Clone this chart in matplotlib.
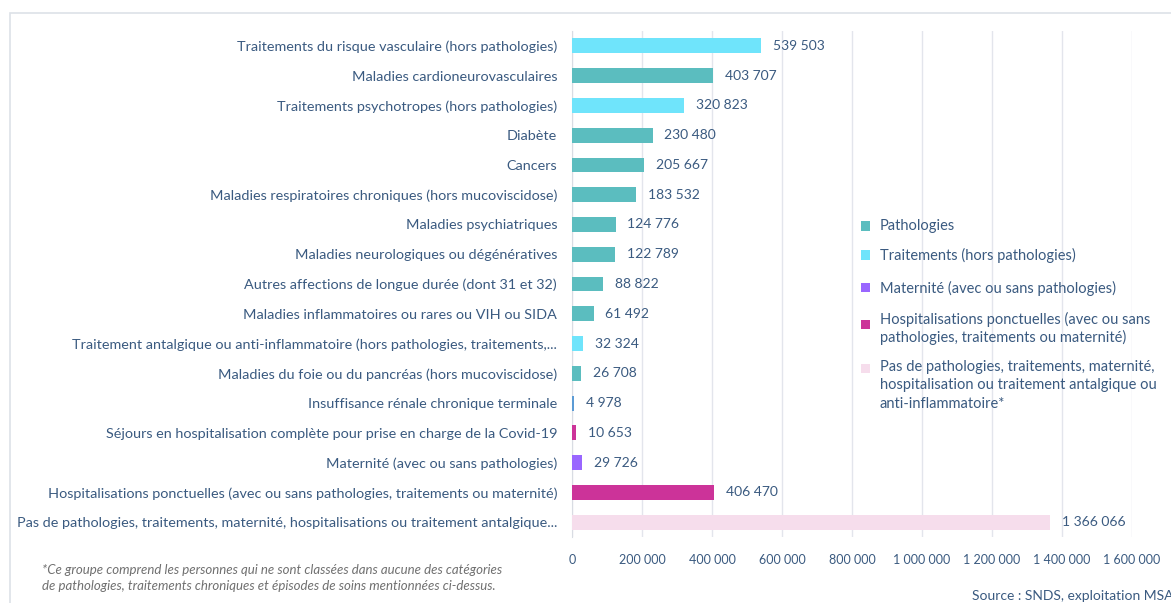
import matplotlib
matplotlib.use("Agg")
import matplotlib.pyplot as plt
from matplotlib.patches import Rectangle
from matplotlib.ticker import FuncFormatter

# categories, top to bottom
categories = [
    "Traitements du risque vasculaire (hors pathologies)",
    "Maladies cardioneurovasculaires",
    "Traitements psychotropes (hors pathologies)",
    "Diabète",
    "Cancers",
    "Maladies respiratoires chroniques (hors mucoviscidose)",
    "Maladies psychiatriques",
    "Maladies neurologiques ou dégénératives",
    "Autres affections de longue durée (dont 31 et 32)",
    "Maladies inflammatoires ou rares ou VIH ou SIDA",
    "Traitement antalgique ou anti-inflammatoire (hors pathologies, traitements,...",
    "Maladies du foie ou du pancréas (hors mucoviscidose)",
    "Insuffisance rénale chronique terminale",
    "Séjours en hospitalisation complète pour prise en charge de la Covid-19",
    "Maternité (avec ou sans pathologies)",
    "Hospitalisations ponctuelles (avec ou sans pathologies, traitements ou maternité)",
    "Pas de pathologies, traitements, maternité, hospitalisations ou traitement antalgique...",
]
values = [539503, 403707, 320823, 230480, 205667, 183532, 124776, 122789,
          88822, 61492, 32324, 26708, 4978, 10653, 29726, 406470, 1366066]
groups = ["trt", "patho", "trt", "patho", "patho", "patho", "patho", "patho",
          "patho", "patho", "trt", "patho", "irc", "hosp", "mat", "hosp", "none"]

COL = {
    "patho": "#5BBDBF",
    "trt":   "#6FE4FB",
    "mat":   "#9966FF",
    "hosp":  "#CC3399",
    "none":  "#F6DDEC",
    "irc":   "#5B9BD5",
}
legend_keys = ["patho", "trt", "mat", "hosp", "none"]
legend_lines = [
    ["Pathologies"],
    ["Traitements (hors pathologies)"],
    ["Maternité (avec ou sans pathologies)"],
    ["Hospitalisations ponctuelles (avec ou sans",
     "pathologies, traitements ou maternité)"],
    ["Pas de pathologies, traitements, maternité,",
     "hospitalisation ou traitement antalgique ou",
     "anti-inflammatoire*"],
]

TXT = "#3A5A80"
plt.rcParams["font.family"] = ["Lato", "DejaVu Sans"]

W, H = 1171, 603
fig = plt.figure(figsize=(W / 100, H / 100), dpi=100)
ax = fig.add_axes([572 / W, 1 - 537 / H, 560 / W, 506 / H])

# light frame around the chart
fig.patches.append(Rectangle((10 / W, -0.1), 1.2, 1 - 13 / H + 0.1,
                             transform=fig.transFigure, fill=False,
                             edgecolor="#DDE2E8", lw=1.2))

y = list(range(len(categories)))
ax.barh(y, values, height=0.5, color=[COL[g] for g in groups], zorder=3)
for yi, v in zip(y, values):
    ax.annotate(f"{v:,}".replace(",", " "), (v, yi), xytext=(8.5, 0),
                textcoords="offset points", va="center", ha="left",
                fontsize=10, color=TXT)

ax.set_ylim(len(categories) - 0.5, -0.5)
ax.set_yticks(y)
ax.set_yticklabels(categories, fontsize=10.4, color=TXT)
ax.set_xlim(0, 1600000)
ax.set_xticks(range(0, 1600001, 200000))
ax.xaxis.set_major_formatter(FuncFormatter(lambda v, p: f"{int(v):,}".replace(",", " ")))
ax.tick_params(axis="x", labelsize=9, colors=TXT, length=0, pad=12)
ax.tick_params(axis="y", length=0, pad=10.8)
ax.grid(axis="x", color="#E3E5EC", lw=1, zorder=0)
for s in ["top", "right", "bottom"]:
    ax.spines[s].set_visible(False)
ax.spines["left"].set_color("#D9DCE3")

# legend, placed by hand (marker y, first text line y) in pixels
marker_y = [226, 255, 287, 324, 368]
text_y = [226, 255, 288, 319, 367]
line_step = 18.5
for k, lines, my, ty in zip(legend_keys, legend_lines, marker_y, text_y):
    fig.patches.append(Rectangle((861 / W, 1 - (my + 4.5) / H), 9 / W, 9 / H,
                                 transform=fig.transFigure,
                                 facecolor=COL[k], edgecolor="none"))
    for i, line in enumerate(lines):
        fig.text(880 / W, 1 - (ty + i * line_step) / H, line,
                 fontsize=10.5, color=TXT, va="center", ha="left")

fig.text(42 / W, 1 - 570 / H,
         "*Ce groupe comprend les personnes qui ne sont classées dans aucune des catégories",
         fontsize=9.5, style="italic", color="#707070", va="center")
fig.text(42 / W, 1 - 586 / H,
         "de pathologies, traitements chroniques et épisodes de soins mentionnées ci-dessus.",
         fontsize=9.5, style="italic", color="#707070", va="center")
fig.text(972 / W, 1 - 596 / H, "Source : SNDS, exploitation MSA",
         fontsize=10, color=TXT, va="center")

fig.savefig("out.png", dpi=100)
